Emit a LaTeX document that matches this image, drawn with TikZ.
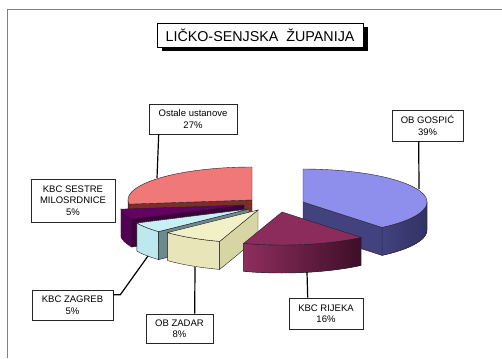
\documentclass[tikz,border=0pt]{standalone}
\usepackage{fontspec}
\setmainfont{Liberation Sans}
\usetikzlibrary{calc}
\definecolor{gosTop}{RGB}{142,142,236}
\definecolor{gosWall}{RGB}{66,66,126}
\definecolor{gosWallB}{RGB}{50,50,100}
\definecolor{rijTop}{RGB}{140,44,92}
\definecolor{rijWallA}{RGB}{142,46,94}
\definecolor{rijWallB}{RGB}{62,14,40}
\definecolor{zadTop}{RGB}{242,240,198}
\definecolor{zadWall}{RGB}{232,229,184}
\definecolor{zadCut}{RGB}{216,213,164}
\definecolor{zagTop}{RGB}{200,240,244}
\definecolor{zagWall}{RGB}{188,232,238}
\definecolor{zagCut}{RGB}{108,138,140}
\definecolor{sesTop}{RGB}{100,0,100}
\definecolor{sesWall}{RGB}{84,0,84}
\definecolor{sesCut}{RGB}{60,0,60}
\definecolor{ostTop}{RGB}{240,120,120}
\definecolor{ostCut}{RGB}{122,48,40}
\definecolor{edgecol}{RGB}{40,30,40}
\newcommand\PRX{124}
\newcommand\PRY{33}
\newcommand\PRH{28}
% wall between angles #3..#4 of slice with apex (#1,#2), style #5
\newcommand\wallpart[5]{%
  \filldraw[#5, draw=edgecol, line width=0.4pt]
    plot[domain=#3:#4, samples=40] ({#1+\PRX*cos(\x)},{#2-\PRY*sin(\x)})
    -- plot[domain=#4:#3, samples=40] ({#1+\PRX*cos(\x)},{#2+\PRH-\PRY*sin(\x)}) -- cycle;}
% radial cut face at angle #3
\newcommand\cutpart[4]{%
  \filldraw[fill=#4, draw=edgecol, line width=0.4pt]
    (#1,#2) -- ({#1+\PRX*cos(#3)},{#2-\PRY*sin(#3)}) -- ++(0,\PRH) -- (#1,{#2+\PRH}) -- cycle;}
% top face from #3 to #4
\newcommand\toppart[5]{%
  \filldraw[fill=#5, draw=edgecol, line width=0.4pt]
    (#1,#2) -- plot[domain=#3:#4, samples=40] ({#1+\PRX*cos(\x)},{#2-\PRY*sin(\x)}) -- cycle;}
\begin{document}
\begin{tikzpicture}[x=1pt,y=-1pt,
  lbl/.style={draw=black!85, fill=white, line width=0.6pt, align=center,
    font=\fontsize{9.5}{11.5}\selectfont, inner sep=0pt},
  lead/.style={line width=1.2pt, black}]
\useasboundingbox (0,0) rectangle (502,358);
\fill[white] (0,0) rectangle (502,358);
\draw[black!50, line width=0.8pt] (502,9) -- (7,9) -- (7,358);

% title
\fill[black] (162,27) rectangle (368,51);
\node[draw=black, fill=white, line width=0.8pt, minimum width=206pt, minimum height=24pt,
  inner sep=0pt, font=\fontsize{14.3}{16}\selectfont] (title) at (260,35) {LIČKO-SENJSKA\ \ ŽUPANIJA};

% pie slices, back to front
% Ostale ustanove 27%
\wallpart{252}{200}{180}{187.2}{fill=ostCut}
\cutpart{252}{200}{187.2}{ostCut}
\toppart{252}{200}{90}{187.2}{ostTop}
% KBC Sestre milosrdnice 5%
\wallpart{244}{205}{-172.8}{-154.8}{fill=sesWall}
\cutpart{244}{205}{-154.8}{sesCut}
\toppart{244}{205}{-172.8}{-154.8}{sesTop}
% KBC Zagreb 5%
\wallpart{249}{209}{-154.8}{-136.8}{fill=zagWall}
\cutpart{249}{209}{-136.8}{zagCut}
\toppart{249}{209}{-154.8}{-136.8}{zagTop}
% OB Zadar 8%
\wallpart{258}{210}{-136.8}{-108}{fill=zadWall}
\cutpart{258}{210}{-108}{zadCut}
\toppart{258}{210}{-136.8}{-108}{zadTop}
% OB Gospic 39%
\wallpart{303}{202}{-50.4}{0}{left color=gosWall, right color=gosWallB}
\cutpart{303}{202}{-50.4}{gosWall}
\toppart{303}{202}{-50.4}{90}{gosTop}
% KBC Rijeka 16%
\wallpart{282}{212}{-108}{-50.4}{left color=rijWallA, right color=rijWallB}
\toppart{282}{212}{-108}{-50.4}{rijTop}

% leader end points on the slices
\coordinate (cost) at (157,178);
\coordinate (cgos) at (419,189);
\coordinate (czag) at (148,256);
\coordinate (czad) at (195,267);
\coordinate (crij) at (307,272);

% labels
\node[lbl, minimum width=88pt, minimum height=30pt] (lost) at (193,119) {Ostale ustanove\\27\%};
\node[lbl, minimum width=71pt, minimum height=31pt] (lgos) at (427.5,125.5) {OB GOSPIĆ\\39\%};
\node[lbl, minimum width=84pt, minimum height=43pt] (lses) at (73,200.5) {KBC SESTRE\\MILOSRDNICE\\5\%};
\node[lbl, minimum width=81pt, minimum height=30pt] (lzag) at (72.5,305) {KBC ZAGREB\\5\%};
\node[lbl, minimum width=67pt, minimum height=29pt] (lzad) at (179.5,328.5) {OB ZADAR\\8\%};
\node[lbl, minimum width=74pt, minimum height=31pt] (lrij) at (326,313.5) {KBC RIJEKA\\16\%};

% leader lines
\draw[lead] ($(lost.south west)+(10,0)$) -- (cost);
\draw[lead] ($(lgos.south west)+(27,0)$) -- (cgos);
\draw[lead] ($(lzag.north east)+(0,5)$) -- ++(7,0) -- (czag);
\draw[lead] ($(lzad.north west)+(49,0)$) -- (czad);
\draw[lead] ($(lrij.north west)+(19,0)$) -- (crij);
\end{tikzpicture}
\end{document}
